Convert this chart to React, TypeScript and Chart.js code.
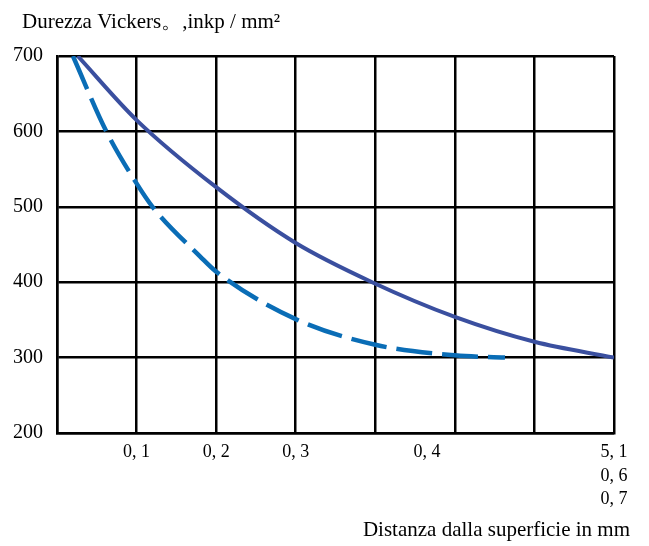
import React, { useEffect, useRef } from "react";
import { Chart, registerables } from "chart.js";

Chart.register(...registerables);

// Axis texts
const yAxisTitle = "Durezza Vickers。,inkp / mm²";
const xAxisTitle = "Distanza dalla superficie in mm";

// Y axis
const yMin = 200;
const yMax = 700;
const yStep = 100;

// X axis: grid columns 0..7, labels at given positions
const xGridValues = [0, 1, 2, 3, 4, 5, 6, 7];
const xLabelValues = [1, 2, 3, 4.65, 7];
const xLabelTexts: (string | string[])[] = ["0, 1", "0, 2", "0, 3", "0, 4", ["5, 1", "0, 6", "0, 7"]];

// Series (x in grid-column units, y in kp/mm²)
const solidX = [0.26, 1, 2, 3, 3.96, 5, 6, 7];
const solidY = [700, 615, 526, 452, 400, 354, 321, 300];

const dashedX = [0.2, 0.62, 1, 1.2, 1.8, 2, 3, 4, 5, 5.63];
const dashedY = [700, 600, 531, 500, 434, 414, 351, 317, 303, 300];

const textPlugin = {
  id: "axisTexts",
  afterDraw(chart: any) {
    const { ctx, chartArea } = chart;
    ctx.save();
    ctx.fillStyle = "#000";
    ctx.textBaseline = "middle";
    ctx.font = '21px "Liberation Serif"';
    ctx.textAlign = "left";
    ctx.fillText(yAxisTitle, 14, 14);
    ctx.textAlign = "right";
    ctx.fillText(xAxisTitle, chartArea.right + 16, chartArea.bottom + 97);
    ctx.restore();
  },
};

export default function App() {
  const ref = useRef<HTMLCanvasElement | null>(null);
  useEffect(() => {
    if (!ref.current) return;
    const allTicks = Array.from(new Set([...xGridValues, ...xLabelValues])).sort((a, b) => a - b);
    const chart = new Chart(ref.current, {
      type: "line",
      data: {
        datasets: [
          {
            label: "A",
            data: solidX.map((x, i) => ({ x, y: solidY[i] })),
            borderColor: "#3a4f9f",
            borderWidth: 4,
            pointRadius: 0,
            cubicInterpolationMode: "monotone",
            fill: false,
          },
          {
            label: "B",
            data: dashedX.map((x, i) => ({ x, y: dashedY[i] })),
            borderColor: "#0a6db6",
            borderWidth: 4.5,
            borderDash: [36, 10],
            pointRadius: 0,
            cubicInterpolationMode: "monotone",
            fill: false,
          },
        ],
      },
      options: {
        animation: false,
        responsive: true,
        maintainAspectRatio: false,
        layout: { padding: { top: 48, right: 27, bottom: 0, left: 0 } },
        plugins: {
          legend: { display: false },
          tooltip: { enabled: false },
          title: { display: false },
        },
        scales: {
          x: {
            type: "linear",
            min: 0,
            max: 7,
            afterBuildTicks: (scale: any) => {
              scale.ticks = allTicks.map((v) => ({ value: v }));
            },
            afterFit: (scale: any) => {
              scale.height = 113;
            },
            ticks: {
              autoSkip: false,
              maxRotation: 0,
              padding: 8,
              color: "#000",
              font: { family: "Liberation Serif", size: 18, lineHeight: 1.3 },
              callback: (value: any) => {
                const idx = xLabelValues.indexOf(Number(value));
                return idx >= 0 ? xLabelTexts[idx] : "";
              },
            },
            grid: {
              drawTicks: false,
              lineWidth: 2.5,
              color: (ctx: any) =>
                ctx.tick && Number.isInteger(ctx.tick.value) ? "#000" : "rgba(0,0,0,0)",
            },
            border: { display: true, color: "#000", width: 2.5 },
          },
          y: {
            type: "linear",
            min: yMin,
            max: yMax,
            afterFit: (scale: any) => {
              scale.width = 49;
            },
            ticks: {
              stepSize: yStep,
              padding: 14,
              color: "#000",
              font: { family: "Liberation Serif", size: 20 },
            },
            grid: { drawTicks: false, lineWidth: 2.5, color: "#000" },
            border: { display: true, color: "#000", width: 2.5 },
          },
        },
      },
      plugins: [textPlugin],
    });
    return () => chart.destroy();
  }, []);
  return (
    <div style={{ width: 633, height: 538, position: "relative" }}>
      <canvas ref={ref} />
    </div>
  );
}
